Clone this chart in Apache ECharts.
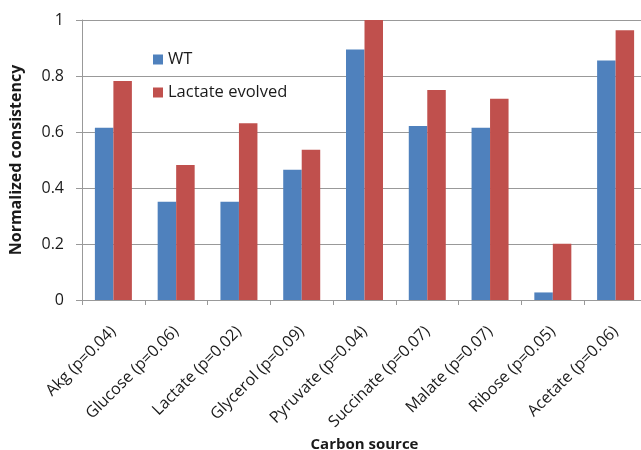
<!DOCTYPE html>
<html>
<head>
<meta charset="utf-8">
<script src="https://cdn.jsdelivr.net/npm/echarts@6/dist/echarts.min.js"></script>
<style>html,body{margin:0;padding:0;background:#fff;}#c{width:641px;height:450px;}</style>
</head>
<body>
<div id="c"></div>
<script>
const categories = ["Akg (p=0.04)", "Glucose (p=0.06)", "Lactate (p=0.02)", "Glycerol (p=0.09)", "Pyruvate (p=0.04)", "Succinate (p=0.07)", "Malate (p=0.07)", "Ribose (p=0.05)", "Acetate (p=0.06)"];
const wtValues = [0.615, 0.351, 0.351, 0.465, 0.895, 0.621, 0.615, 0.027, 0.855];
const lactateEvolvedValues = [0.782, 0.482, 0.631, 0.537, 1.0, 0.75, 0.719, 0.201, 0.963];
const seriesNames = ["WT", "Lactate evolved"];

const FONT = "Open Sans";
const chart = echarts.init(document.getElementById('c'), null, {renderer: 'canvas'});
chart.setOption({
  animation: false,
  backgroundColor: '#ffffff',
  textStyle: {fontFamily: FONT},
  legend: {
    orient: 'vertical',
    left: 148,
    top: 46,
    itemWidth: 10,
    itemHeight: 10,
    itemGap: 16,
    icon: 'rect',
    textStyle: {fontFamily: FONT, fontSize: 16.5, color: '#1a1a1a'},
    data: seriesNames
  },
  grid: {left: 82, top: 20, width: 565, height: 280, containLabel: false, outerBoundsMode: 'none'},
  xAxis: {
    type: 'category',
    data: categories,
    name: 'Carbon source',
    nameLocation: 'middle',
    nameGap: 134,
    nameTextStyle: {fontFamily: FONT, fontSize: 15, fontWeight: 'bold', color: '#1a1a1a'},
    axisLine: {show: true, lineStyle: {color: '#999999', width: 1}},
    axisTick: {show: true, length: 5, alignWithLabel: false, lineStyle: {color: '#999999'}},
    axisLabel: {rotate: 45, interval: 0, margin: 29, fontFamily: FONT, fontSize: 16, color: '#1a1a1a'}
  },
  yAxis: {
    type: 'value',
    min: 0,
    max: 1,
    interval: 0.2,
    name: 'Normalized consistency',
    nameLocation: 'middle',
    nameGap: 58,
    nameTextStyle: {fontFamily: FONT, fontSize: 16, fontWeight: 'bold', color: '#1a1a1a'},
    axisLine: {show: true, lineStyle: {color: '#999999', width: 1}},
    axisTick: {show: true, length: 6, lineStyle: {color: '#999999'}},
    axisLabel: {margin: 18, fontFamily: FONT, fontSize: 16, color: '#1a1a1a'},
    splitLine: {show: true, lineStyle: {color: '#999999', width: 1}}
  },
  series: [
    {name: seriesNames[0], type: 'bar', data: wtValues, barWidth: 18.5, barGap: '0%', itemStyle: {color: '#4F81BD'}},
    {name: seriesNames[1], type: 'bar', data: lactateEvolvedValues, barWidth: 18.5, barGap: '0%', itemStyle: {color: '#C0504D'}}
  ]
});
</script>
</body>
</html>
